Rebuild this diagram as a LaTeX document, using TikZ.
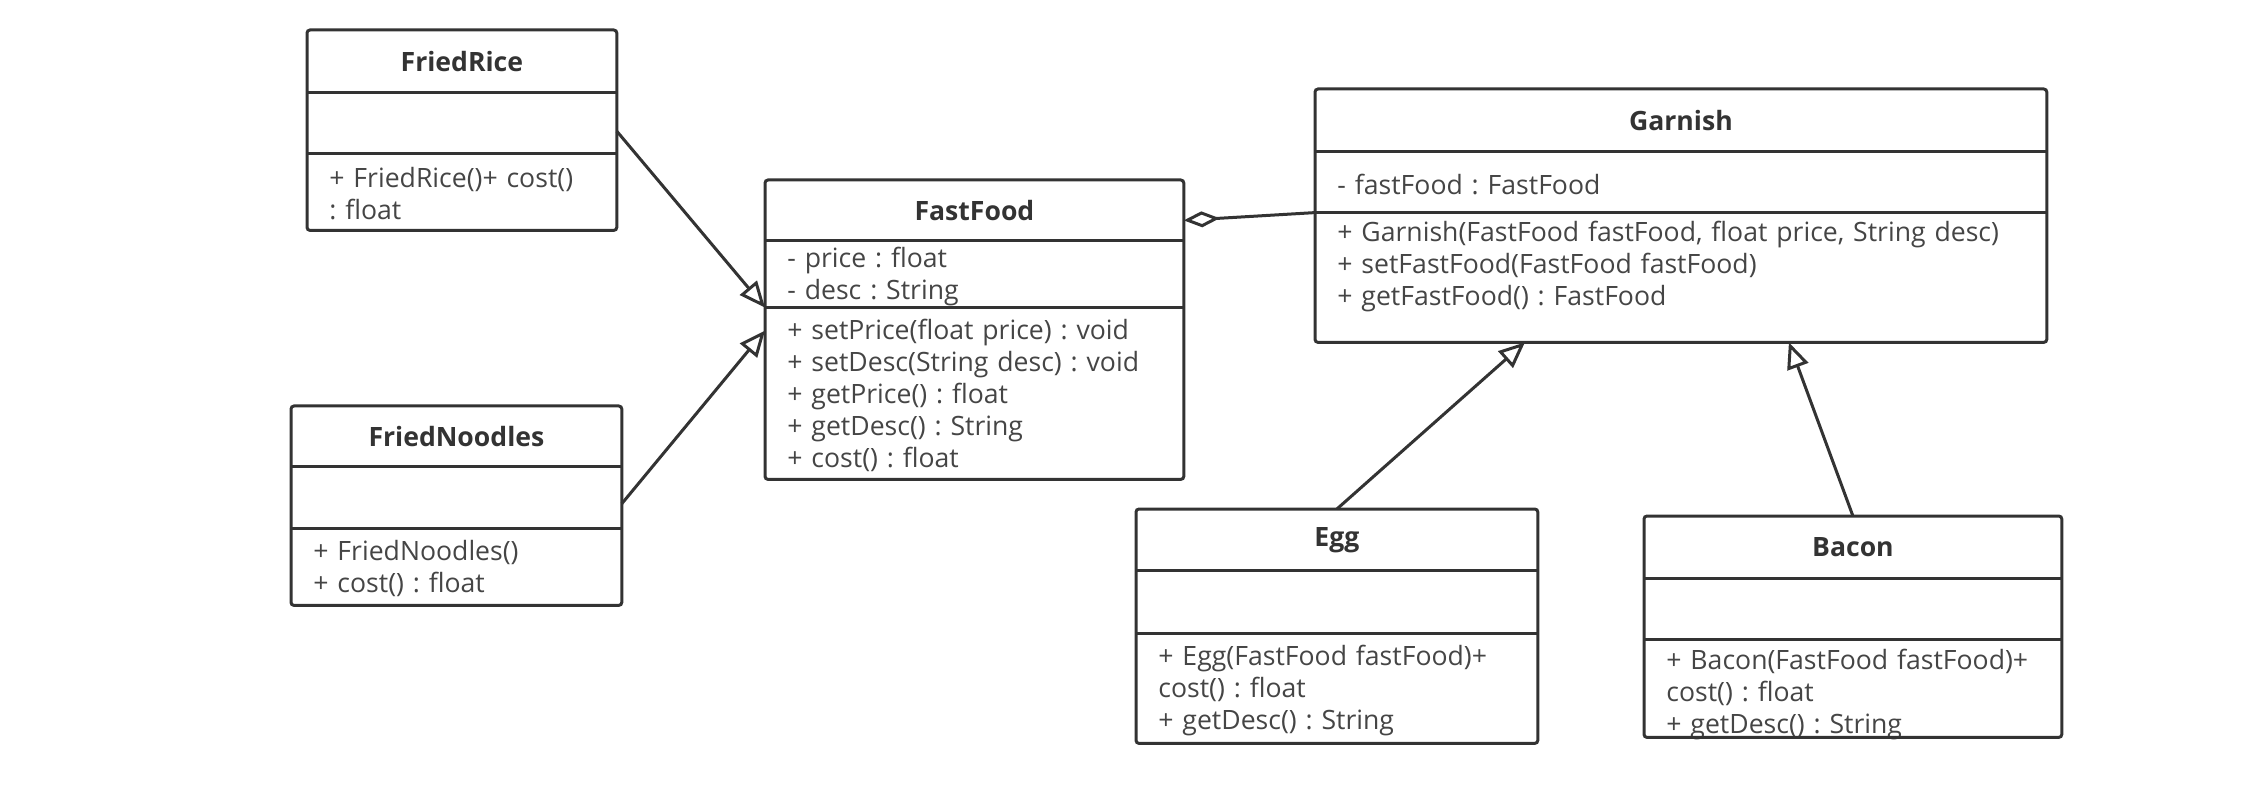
\documentclass[tikz,border=0pt]{standalone}
\usepackage{fontspec}
\setmainfont{Open Sans}
\frenchspacing
\usetikzlibrary{arrows.meta,positioning}
\definecolor{umlline}{HTML}{333333}
\definecolor{umltext}{HTML}{454545}

\begin{document}
\begin{tikzpicture}[
      x=0.5pt, y=-0.5pt,
      every node/.style={inner sep=0pt, text=umltext, font=\fontsize{13.3}{16}\selectfont},
      head/.style 2 args={minimum width=#1, minimum height=#2, text=umlline,
                          font=\fontsize{13.3}{16}\selectfont\bfseries},
      body/.style n args={3}{minimum width=#1, text width=#2, minimum height=#3,
                             text height=12pt, inner xsep=11pt, align=left},
      frame/.style={draw=umlline, line width=1.5pt, rounded corners=1.5pt},
      sep/.style={draw=umlline, line width=1.5pt},
      gen/.style={-{Triangle[open, length=13pt, width=11pt]}, line width=1.5pt, umlline},
      agg/.style={-{Diamond[open, length=18pt, width=8pt]}, line width=1.5pt, umlline}
    ]
    \useasboundingbox (0,0) rectangle (2248,796);

    % FriedRice
    \node[head={154.5pt}{31pt}, anchor=north west] (frT) at (307,30) {FriedRice};
    \node[body={154.5pt}{132.5pt}{30pt}, below=0pt of frT] (frA) {};
    \node[body={154.5pt}{132.5pt}{38pt}, below=0pt of frA] (frM) {+ FriedRice()+ cost()\\: float};

    % FriedNoodles
    \node[head={165pt}{30pt}, anchor=north west] (fnT) at (291,406) {FriedNoodles};
    \node[body={165pt}{143pt}{30.5pt}, below=0pt of fnT] (fnA) {};
    \node[body={165pt}{143pt}{38pt}, below=0pt of fnA] (fnM) {+ FriedNoodles()\\+ cost() : float};

    % FastFood
    \node[head={209pt}{30pt}, anchor=north west] (ffT) at (765,180) {FastFood};
    \node[body={209pt}{187pt}{33pt}, below=0pt of ffT] (ffA) {- price : float\\- desc : String};
    \node[body={209pt}{187pt}{85.5pt}, below=0pt of ffA] (ffM) {+ setPrice(float price) : void\\
      + setDesc(String desc) : void\\+ getPrice() : float\\+ getDesc() : String\\+ cost() : float};

    % Garnish
    \node[head={365.5pt}{31pt}, anchor=north west] (gaT) at (1315,89) {Garnish};
    \node[body={365.5pt}{343.5pt}{30pt}, below=0pt of gaT] (gaA) {- fastFood : FastFood};
    \node[body={365.5pt}{343.5pt}{64.5pt}, below=0pt of gaA] (gaM) {+ Garnish(FastFood fastFood, float price, String desc)\\
      + setFastFood(FastFood fastFood)\\+ getFastFood() : FastFood\\\mbox{}};

    % Egg
    \node[head={200.5pt}{30.5pt}, anchor=north west] (egT) at (1136,509) {Egg};
    \node[body={200.5pt}{178.5pt}{31pt}, below=0pt of egT] (egA) {};
    \node[body={200.5pt}{178.5pt}{54.5pt}, below=0pt of egA] (egM) {+ Egg(FastFood fastFood)+\\
      cost() : float\\+ getDesc() : String};

    % Bacon
    \node[head={208.5pt}{31pt}, anchor=north west] (baT) at (1644,516) {Bacon};
    \node[body={208.5pt}{186.5pt}{30pt}, below=0pt of baT] (baA) {};
    \node[body={208.5pt}{186.5pt}{48.5pt}, text height=14.5pt, text depth=33.5pt,
          below=0pt of baA] (baM) {+ Bacon(FastFood fastFood)+\\
      cost() : float\\+ getDesc() : String};

    \foreach \c in {fr,fn,ff,ga,eg,ba}{
      \draw[frame] (\c T.north west) rectangle (\c M.south east);
      \draw[sep] (\c T.south west) -- (\c T.south east) (\c A.south west) -- (\c A.south east);
    }

    \draw[gen] ([yshift=-4pt]frA.east) -- (ffA.south west);
    \draw[gen] ([yshift=-3pt]fnA.east) -- ([yshift=-11.5pt]ffM.north west);
    \draw[agg] (gaA.south west) -- ([yshift=-5pt]ffT.east);
    \draw[gen] (egT.north) -- ([xshift=-78pt]gaM.south);
    \draw[gen] (baT.north) -- ([xshift=54pt]gaM.south);

  \end{tikzpicture}
\end{document}
